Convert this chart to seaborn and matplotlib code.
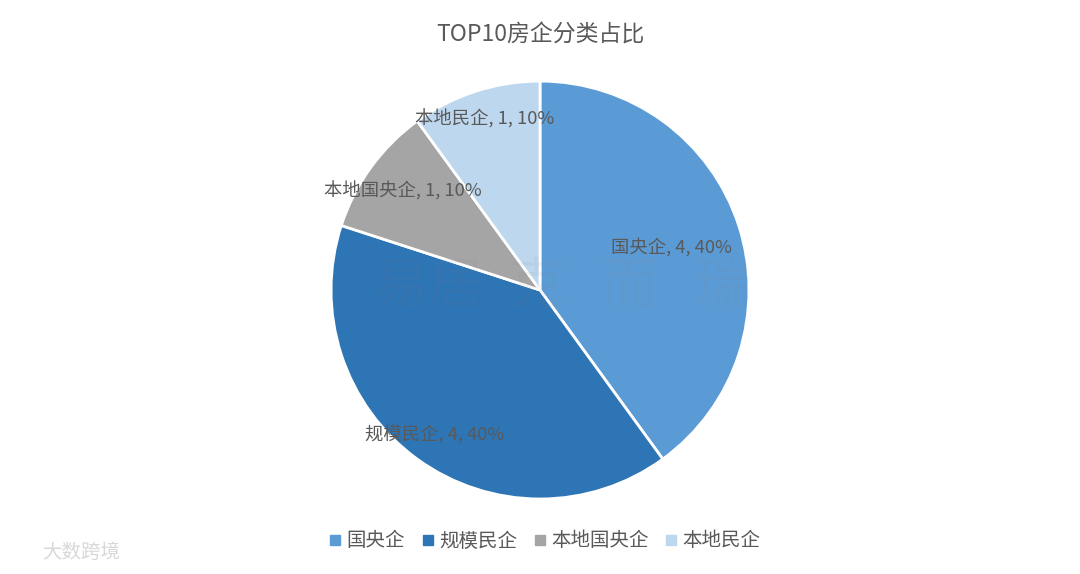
import numpy as np
import matplotlib.pyplot as plt
from matplotlib.lines import Line2D
import seaborn as sns

# data
categories = ["国央企", "规模民企", "本地国央企", "本地民企"]
counts = [4, 4, 1, 1]
colors = ["#5B9BD5", "#2E75B6", "#A5A5A5", "#BDD7EE"]
title = "TOP10房企分类占比"

sns.set_theme(style="white")
plt.rcParams["font.family"] = ["Noto Sans CJK SC", "DejaVu Sans"]
text_color = "#595959"

fig = plt.figure(figsize=(10.8, 5.74), dpi=100)
ax = fig.add_axes([0.3065, 0.1307, 0.387, 0.728])

palette = sns.color_palette(colors)
wedges, _ = ax.pie(counts, colors=palette, startangle=90, counterclock=False,
                   wedgeprops=dict(edgecolor="white", linewidth=2))
ax.set_xlim(-1, 1)
ax.set_ylim(-1, 1)
ax.set_aspect("equal")

# data labels, placed like Excel's best fit
total = sum(counts)
label_dist = [0.66, 0.86, 0.81, 0.86]
for w, name, c, d in zip(wedges, categories, counts, label_dist):
    mid = np.deg2rad((w.theta1 + w.theta2) / 2)
    pct = round(c / total * 100)
    ax.text(d * np.cos(mid), d * np.sin(mid), f"{name}, {c}, {pct}%",
            ha="center", va="center", fontsize=13.2, color=text_color)

fig.text(0.5, 1 - 35 / 574, title, ha="center", va="center",
         fontsize=16.5, color=text_color)

handles = [Line2D([], [], marker="s", linestyle="none", markersize=6.5,
                  markerfacecolor=col, markeredgecolor=col) for col in colors]
fig.legend(handles, categories, loc="center", ncol=4, frameon=False,
           bbox_to_anchor=(545 / 1080, 1 - 541 / 574), fontsize=14,
           labelcolor=text_color, handlelength=0.6, handletextpad=0.3,
           columnspacing=0.85)

# faint watermarks
fig.text(0.52, 1 - 288 / 574, "易居  克   而   瑞", ha="center", va="center",
         fontsize=40, color="#808080", alpha=0.08)
fig.text(0.075, 1 - 552 / 574, "大数跨境", ha="center", va="center",
         fontsize=14, color="#d8d8d8")

fig.savefig("out.png", dpi=100, facecolor="white")
